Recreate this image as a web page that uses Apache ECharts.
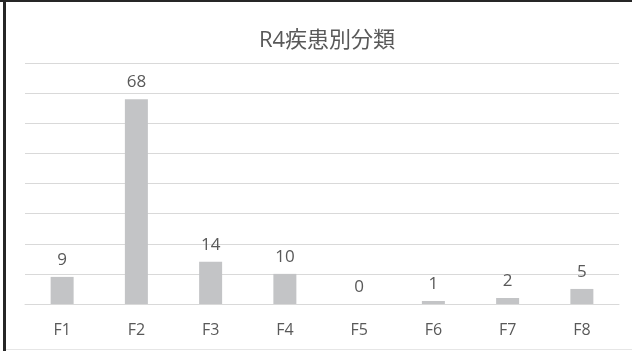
<!DOCTYPE html>
<html>
<head>
<meta charset="utf-8">
<script src="https://cdn.jsdelivr.net/npm/echarts@6/dist/echarts.min.js"></script>
<style>
  html, body { margin: 0; padding: 0; background: #ffffff; }
  #chart { width: 632px; height: 351px; }
</style>
</head>
<body>
<div id="chart"></div>
<script>
// 疾患別分類（令和4年度）
const titleText = 'R4疾患別分類';
const categories = ['F1', 'F2', 'F3', 'F4', 'F5', 'F6', 'F7', 'F8'];
const counts = [9, 68, 14, 10, 0, 1, 2, 5];

const textColor = '#595959';
const fontFamily = '"Open Sans", "Noto Sans CJK JP", sans-serif';

const chart = echarts.init(document.getElementById('chart'), null, { renderer: 'canvas' });

chart.setOption({
  backgroundColor: '#ffffff',
  animation: false,
  title: {
    text: titleText,
    left: 322,
    textAlign: 'center',
    top: 25,
    textStyle: {
      color: textColor,
      fontSize: 22,
      fontWeight: 'normal',
      fontFamily: fontFamily
    }
  },
  grid: {
    left: 25,
    right: 13,
    top: 63,
    bottom: 47,
    containLabel: false
  },
  xAxis: {
    type: 'category',
    data: categories,
    axisLine: { show: true, lineStyle: { color: '#d9d9d9', width: 1 } },
    axisTick: { show: false },
    axisLabel: {
      color: textColor,
      fontSize: 16,
      fontFamily: fontFamily,
      margin: 18
    }
  },
  yAxis: {
    type: 'value',
    min: 0,
    max: 80,
    interval: 10,
    axisLine: { show: false },
    axisTick: { show: false },
    axisLabel: { show: false },
    splitLine: { show: true, lineStyle: { color: '#d9d9d9', width: 1 } }
  },
  series: [{
    type: 'bar',
    data: counts,
    barWidth: 23,
    itemStyle: { color: '#c3c4c6' },
    label: {
      show: true,
      position: 'top',
      distance: 8,
      color: textColor,
      fontSize: 17,
      fontFamily: fontFamily
    }
  }],
  graphic: [
    // frame: dark top and left edges, light bottom edge
    { type: 'rect', shape: { x: 0, y: 0, width: 632, height: 2 }, style: { fill: '#262626' }, silent: true },
    { type: 'rect', shape: { x: 3, y: 0, width: 3, height: 351 }, style: { fill: '#262626' }, silent: true },
    { type: 'rect', shape: { x: 6, y: 349, width: 626, height: 1 }, style: { fill: '#e6e6e6' }, silent: true }
  ]
});
</script>
</body>
</html>
